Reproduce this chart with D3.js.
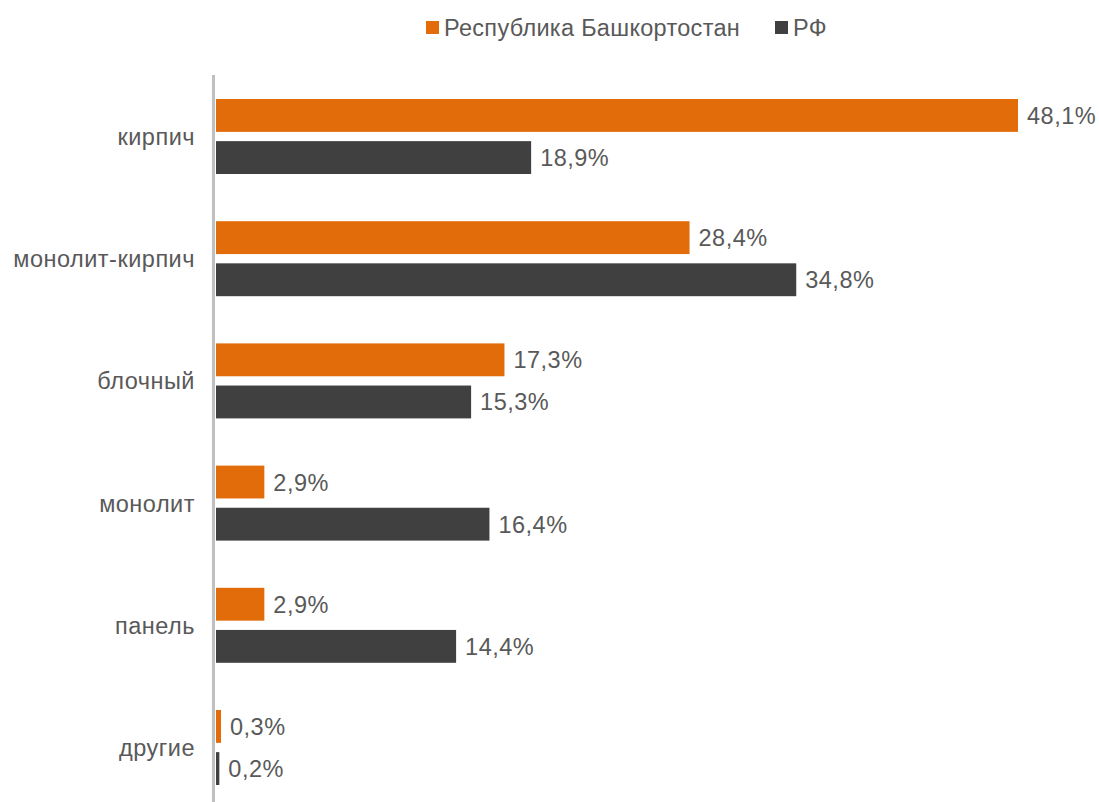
<!DOCTYPE html>
<html>
<head>
<meta charset="utf-8">
<script src="https://cdn.jsdelivr.net/npm/d3@7"></script>
<style>
  body { margin: 0; background: #fff; }
  text { font-family: "Liberation Sans", Arial, sans-serif; fill: #595959; }
</style>
</head>
<body>
<svg id="chart" width="1099" height="802"></svg>
<script>
/* categories and values */
var categories = ["кирпич", "монолит-кирпич", "блочный", "монолит", "панель", "другие"];
var seriesNames = ["Республика Башкортостан", "РФ"];
var bashkortostan = [48.1, 28.4, 17.3, 2.9, 2.9, 0.3];
var rf = [18.9, 34.8, 15.3, 16.4, 14.4, 0.2];
var colors = ["#E36C0A", "#404040"];

var svg = d3.select("#chart");

/* scales */
var x = d3.scaleLinear().domain([0, 48.1]).range([216, 1018]);
var y = d3.scaleBand().domain(categories).range([75.4, 808.6]);
var y1 = d3.scaleBand().domain([0, 1]).range([-37.5, 37.5]).paddingInner(0.22);

var fmt = function(v) { return v.toFixed(1).replace(".", ",") + "%"; };
var fontSize = "23.5px";

var groups = svg.selectAll("g.cat")
  .data(categories)
  .enter().append("g")
  .attr("class", "cat")
  .attr("transform", function(d) { return "translate(0," + (y(d) + y.bandwidth() / 2) + ")"; });

[bashkortostan, rf].forEach(function(series, si) {
  groups.append("rect")
    .attr("x", x(0))
    .attr("y", y1(si))
    .attr("width", function(d, i) { return Math.max(x(series[i]) - x(0), 2); })
    .attr("height", y1.bandwidth())
    .attr("fill", colors[si]);

  groups.append("text")
    .attr("x", function(d, i) { return Math.max(x(series[i]), x(0) + 2) + 9; })
    .attr("y", y1(si) + y1.bandwidth() / 2)
    .attr("dy", "0.36em")
    .style("font-size", fontSize)
    .style("letter-spacing", "0.5px")
    .text(function(d, i) { return fmt(series[i]); });
});

/* category labels */
groups.append("text")
  .attr("x", 195)
  .attr("dy", "0.36em")
  .attr("text-anchor", "end")
  .style("font-size", fontSize)
  .style("letter-spacing", "0.5px")
  .text(function(d) { return d; });

/* vertical axis line */
svg.append("line")
  .attr("x1", 213.5).attr("x2", 213.5)
  .attr("y1", 75).attr("y2", 802)
  .attr("stroke", "#bfbfbf")
  .attr("stroke-width", 3);

/* legend */
var legendX = [426, 775];
var legend = svg.selectAll("g.legend")
  .data(seriesNames)
  .enter().append("g")
  .attr("class", "legend")
  .attr("transform", function(d, i) { return "translate(" + legendX[i] + ",21)"; });

legend.append("rect")
  .attr("width", 13).attr("height", 13)
  .attr("fill", function(d, i) { return colors[i]; });

legend.append("text")
  .attr("x", 18)
  .attr("y", 6.5)
  .attr("dy", "0.36em")
  .style("font-size", fontSize)
  .style("letter-spacing", "0.3px")
  .text(function(d) { return d; });
</script>
</body>
</html>
